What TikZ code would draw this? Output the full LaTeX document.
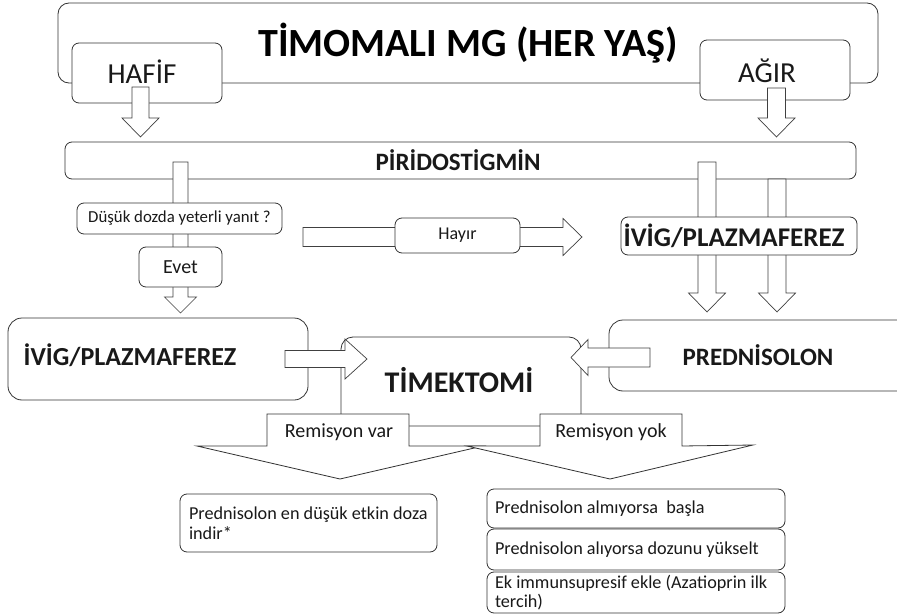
\documentclass[tikz,border=0pt]{standalone}
\usepackage{fontspec}
\setmainfont{Carlito}
\newcommand\blkdown[6]{% cx, ytop, ybase, ytip, shafthalf, headhalf
  \draw[barrow] ({#1-#5},#2) -- ({#1+#5},#2) -- ({#1+#5},#3) -- ({#1+#6},#3) -- (#1,#4) -- ({#1-#6},#3) -- ({#1-#5},#3) -- cycle;}
\newcommand\blkside[6]{% cy, xstart, xbase, xtip, shafthalf, headhalf
  \draw[barrow] (#2,{#1-#5}) -- (#3,{#1-#5}) -- (#3,{#1-#6}) -- (#4,#1) -- (#3,{#1+#6}) -- (#3,{#1+#5}) -- (#2,{#1+#5}) -- cycle;}
\tikzset{
  box/.style={draw=black!80, line width=0.8pt, fill=white, rounded corners=7pt, inner sep=0pt},
  barrow/.style={draw=black!75, line width=0.7pt, fill=white, line join=miter},
  callout/.style={draw=black!80, line width=0.8pt, fill=white},
  txt/.style={inner sep=0pt, text=black!90},
  smallbox/.style={box, inner xsep=8pt, align=flush left, font=\fontsize{18.2}{20}\selectfont, text=black!90},
}
\begin{document}
\begin{tikzpicture}[x=1pt,y=-1pt]
\clip (0,0) rectangle (897,615);
\fill[white] (0,0) rectangle (897,615);
% title
\node[box, rounded corners=11pt, minimum width=820pt, minimum height=80pt,
  font=\fontsize{40}{48}\selectfont\bfseries] (title) at (468,43) {TİMOMALI MG (HER YAŞ)};
\node[box, minimum width=150pt, minimum height=60pt] (hafif) at (147,73) {};
\node[txt, font=\fontsize{29}{34}\selectfont] (hafift) at (142,72) {HAFİF};
\node[box, minimum width=150pt, minimum height=60pt] (agir) at (775,70) {};
\node[txt, font=\fontsize{29}{34}\selectfont] (agirt) at (767,71) {AĞIR};
\blkdown{140.5}{87}{118}{137}{8.5}{18.5}
\blkdown{776.5}{88}{118}{137}{9}{18.5}
% piridostigmin
\node[box, minimum width=791pt, minimum height=37pt] (pir) at (460.5,160.5) {};
\node[txt, font=\fontsize{25}{30}\selectfont\bfseries] (pirt) at (458,160) {PİRİDOSTİGMİN};
\blkdown{180.5}{162}{297}{313}{7.5}{16}
\blkdown{707}{162}{293}{312}{9}{18.5}
\blkdown{777}{179}{293}{312}{9}{18.5}
% question
\node[box, minimum width=205pt, minimum height=31pt, font=\fontsize{16.8}{19}\selectfont, text=black!90] (q) at (179.5,218.5) {Düşük dozda yeterli yanıt ?};
\node[box, minimum width=83pt, minimum height=40pt, font=\fontsize{20}{24}\selectfont, text=black!90] (evet) at (180.5,267) {Evet};
\blkside{237}{303}{563}{582}{9.5}{18.5}
\node[box, minimum width=125pt, minimum height=35pt, font=\fontsize{18}{22}\selectfont, text=black!90] (hayir) at (457.5,235.5) {Hayır};
\node[box, minimum width=236pt, minimum height=38pt] (ivigr) at (739,236) {};
\node[txt, font=\fontsize{27}{32}\selectfont\bfseries] (ivigrt) at (734,236) {İVİG/PLAZMAFEREZ};
% middle row
\node[box, rounded corners=14pt, minimum width=300pt, minimum height=82pt] (ivigl) at (158,359) {};
\node[txt, font=\fontsize{26}{31}\selectfont\bfseries] (iviglt) at (130,355) {İVİG/PLAZMAFEREZ};
\node[box, rounded corners=14pt, minimum width=311pt, minimum height=71pt] (pred) at (764.5,355.5) {};
\node[txt, font=\fontsize{25}{30}\selectfont\bfseries] (predt) at (758,355) {PREDNİSOLON};
\node[box, rounded corners=12pt, minimum width=240pt, minimum height=89pt] (tim) at (461,381.5) {};
\node[txt, font=\fontsize{30}{36}\selectfont\bfseries] (timt) at (459,380) {TİMEKTOMİ};
\blkside{359}{285}{345}{367}{8.5}{20}
\blkside{357.5}{650}{588}{571}{9.5}{18}
% callouts
\draw[callout] (267,414) -- (409,414) -- (409,446) -- (483,446) -- (340,479) -- (197,446) -- (267,446) -- cycle;
\node[txt, font=\fontsize{20}{24}\selectfont] (var) at (339,432) {Remisyon var};
\draw[callout] (540,414) -- (682,414) -- (682,446) -- (753,445) -- (610,479) -- (467,446) -- (540,446) -- cycle;
\node[txt, font=\fontsize{20}{24}\selectfont] (yok) at (611,432) {Remisyon yok};
% bottom boxes
\node[smallbox, inner xsep=9pt, text width=239pt, minimum height=58pt] (b1) at (308.5,523) {Prednisolon en düşük etkin doza\\indir*};
\node[smallbox, text width=282pt, minimum height=39pt] (r1) at (636,508.5) {Prednisolon almıyorsa\ \ başla};
\node[smallbox, text width=282pt, minimum height=41pt] (r2) at (636,549.5) {Prednisolon alıyorsa dozunu yükselt};
\node[smallbox, text width=282pt, minimum height=41pt, font=\fontsize{18.2}{19}\selectfont] (r3) at (636,592.5) {Ek immunsupresif ekle (Azatioprin ilk\\tercih)};
\end{tikzpicture}
\end{document}
